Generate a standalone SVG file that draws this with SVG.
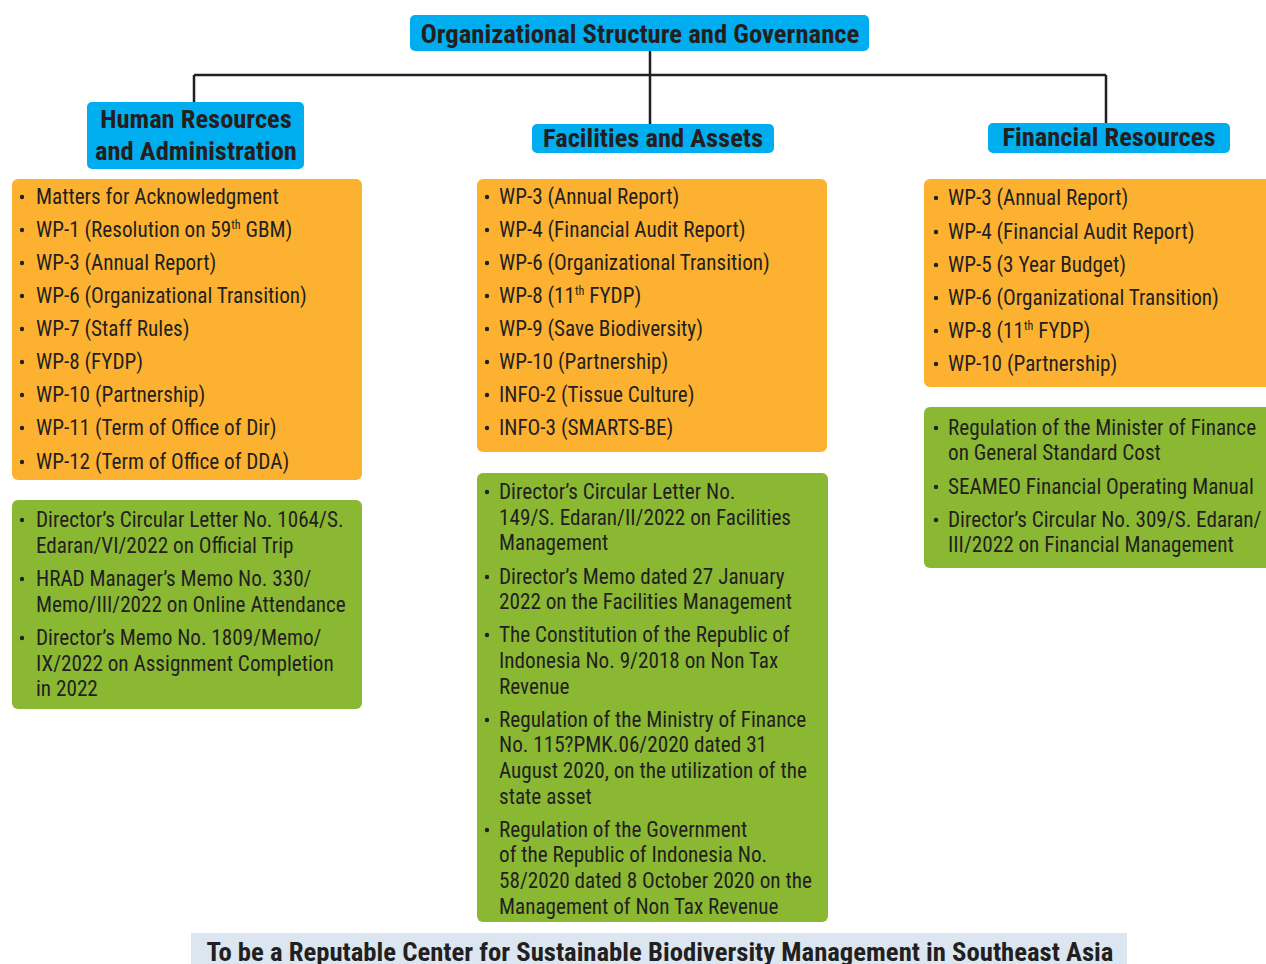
<svg xmlns="http://www.w3.org/2000/svg" width="1266" height="964" viewBox="0 0 1266 964">
<style>
.hdr{fill:#00AEEF}
.org{fill:#FDB131}
.grn{fill:#8AB833}
.t{font-family:Roboto,"Liberation Sans",sans-serif;font-size:21.2px;fill:#231F20;font-stretch:condensed}
.h{font-family:Roboto,"Liberation Sans",sans-serif;font-weight:bold;fill:#231F20;text-anchor:middle;font-stretch:condensed}
.b{fill:#231F20}
.c{stroke:#231F20;stroke-width:2.5;fill:none}
</style>
<rect width="1266" height="964" fill="#ffffff"/>
<g id="connectors">
<path class="c" d="M650 51V124M194 75H1106M194 75V102M1106 75V124"/>
</g>
<g id="title">
<rect class="hdr" x="410" y="15" width="459" height="36" rx="5"/>
<text class="h" x="640" y="43" font-size="26.7">Organizational Structure and Governance</text>
</g>
<g id="hr-header">
<rect class="hdr" x="87" y="102" width="217" height="67" rx="5"/>
<text class="h" x="196" y="128" font-size="26.5">Human Resources</text>
<text class="h" x="196" y="160" font-size="26.5">and Administration</text>
</g>
<g id="fac-header">
<rect class="hdr" x="532" y="124" width="242" height="29" rx="5"/>
<text class="h" x="653" y="147" font-size="26.5">Facilities and Assets</text>
</g>
<g id="fin-header">
<rect class="hdr" x="988" y="123" width="242" height="30" rx="5"/>
<text class="h" x="1109" y="146" font-size="26.5">Financial Resources</text>
</g>
<g id="hr-wp">
<rect class="org" x="12" y="179" width="350" height="301" rx="6"/>
<g class="b"><circle cx="22" cy="197" r="2.2"/><circle cx="22" cy="230" r="2.2"/><circle cx="22" cy="263" r="2.2"/><circle cx="22" cy="296" r="2.2"/><circle cx="22" cy="329" r="2.2"/><circle cx="22" cy="362" r="2.2"/><circle cx="22" cy="395" r="2.2"/><circle cx="22" cy="428" r="2.2"/><circle cx="22" cy="462" r="2.2"/></g>
<text class="t" x="36" y="204">Matters for Acknowledgment</text>
<text class="t" x="36" y="237">WP-1 (Resolution on 59<tspan font-size="12" dy="-8">th</tspan><tspan dy="8"> GBM)</tspan></text>
<text class="t" x="36" y="270">WP-3 (Annual Report)</text>
<text class="t" x="36" y="303">WP-6 (Organizational Transition)</text>
<text class="t" x="36" y="336">WP-7 (Staff Rules)</text>
<text class="t" x="36" y="369">WP-8 (FYDP)</text>
<text class="t" x="36" y="402">WP-10 (Partnership)</text>
<text class="t" x="36" y="435">WP-11 (Term of Office of Dir)</text>
<text class="t" x="36" y="469">WP-12 (Term of Office of DDA)</text>
</g>
<g id="hr-reg">
<rect class="grn" x="12" y="500" width="350" height="209" rx="6"/>
<g class="b"><circle cx="22" cy="520" r="2.2"/><circle cx="22" cy="579" r="2.2"/><circle cx="22" cy="638" r="2.2"/></g>
<text class="t" x="36" y="527">Director’s Circular Letter No. 1064/S.</text>
<text class="t" x="36" y="553">Edaran/VI/2022 on Official Trip</text>
<text class="t" x="36" y="586">HRAD Manager’s Memo No. 330/</text>
<text class="t" x="36" y="612">Memo/III/2022 on Online Attendance</text>
<text class="t" x="36" y="645">Director’s Memo No. 1809/Memo/</text>
<text class="t" x="36" y="671">IX/2022 on Assignment Completion</text>
<text class="t" x="36" y="696">in 2022</text>
</g>
<g id="fac-wp">
<rect class="org" x="477" y="179" width="350" height="273" rx="6"/>
<g class="b"><circle cx="487" cy="197" r="2.2"/><circle cx="487" cy="230" r="2.2"/><circle cx="487" cy="263" r="2.2"/><circle cx="487" cy="296" r="2.2"/><circle cx="487" cy="329" r="2.2"/><circle cx="487" cy="362" r="2.2"/><circle cx="487" cy="395" r="2.2"/><circle cx="487" cy="428" r="2.2"/></g>
<text class="t" x="499" y="204">WP-3 (Annual Report)</text>
<text class="t" x="499" y="237">WP-4 (Financial Audit Report)</text>
<text class="t" x="499" y="270">WP-6 (Organizational Transition)</text>
<text class="t" x="499" y="303">WP-8 (11<tspan font-size="12" dy="-8">th</tspan><tspan dy="8"> FYDP)</tspan></text>
<text class="t" x="499" y="336">WP-9 (Save Biodiversity)</text>
<text class="t" x="499" y="369">WP-10 (Partnership)</text>
<text class="t" x="499" y="402">INFO-2 (Tissue Culture)</text>
<text class="t" x="499" y="435">INFO-3 (SMARTS-BE)</text>
</g>
<g id="fac-reg">
<rect class="grn" x="477" y="473" width="351" height="449" rx="6"/>
<g class="b"><circle cx="487" cy="492" r="2.2"/><circle cx="487" cy="577" r="2.2"/><circle cx="487" cy="635" r="2.2"/><circle cx="487" cy="720" r="2.2"/><circle cx="487" cy="830" r="2.2"/></g>
<text class="t" x="499" y="499">Director’s Circular Letter No.</text>
<text class="t" x="499" y="525">149/S. Edaran/II/2022 on Facilities</text>
<text class="t" x="499" y="550">Management</text>
<text class="t" x="499" y="584">Director’s Memo dated 27 January</text>
<text class="t" x="499" y="609">2022 on the Facilities Management</text>
<text class="t" x="499" y="642">The Constitution of the Republic of</text>
<text class="t" x="499" y="668">Indonesia No. 9/2018 on Non Tax</text>
<text class="t" x="499" y="694">Revenue</text>
<text class="t" x="499" y="727">Regulation of the Ministry of Finance</text>
<text class="t" x="499" y="752">No. 115?PMK.06/2020 dated 31</text>
<text class="t" x="499" y="778">August 2020, on the utilization of the</text>
<text class="t" x="499" y="804">state asset</text>
<text class="t" x="499" y="837">Regulation of the Government</text>
<text class="t" x="499" y="862">of the Republic of Indonesia No.</text>
<text class="t" x="499" y="888">58/2020 dated 8 October 2020 on the</text>
<text class="t" x="499" y="914">Management of Non Tax Revenue</text>
</g>
<g id="fin-wp">
<rect class="org" x="924" y="179" width="350" height="208" rx="6"/>
<g class="b"><circle cx="936" cy="198" r="2.2"/><circle cx="936" cy="232" r="2.2"/><circle cx="936" cy="265" r="2.2"/><circle cx="936" cy="298" r="2.2"/><circle cx="936" cy="331" r="2.2"/><circle cx="936" cy="364" r="2.2"/></g>
<text class="t" x="948" y="205">WP-3 (Annual Report)</text>
<text class="t" x="948" y="239">WP-4 (Financial Audit Report)</text>
<text class="t" x="948" y="272">WP-5 (3 Year Budget)</text>
<text class="t" x="948" y="305">WP-6 (Organizational Transition)</text>
<text class="t" x="948" y="338">WP-8 (11<tspan font-size="12" dy="-8">th</tspan><tspan dy="8"> FYDP)</tspan></text>
<text class="t" x="948" y="371">WP-10 (Partnership)</text>
</g>
<g id="fin-reg">
<rect class="grn" x="924" y="407" width="350" height="161" rx="6"/>
<g class="b"><circle cx="936" cy="428" r="2.2"/><circle cx="936" cy="487" r="2.2"/><circle cx="936" cy="520" r="2.2"/></g>
<text class="t" x="948" y="435">Regulation of the Minister of Finance</text>
<text class="t" x="948" y="460">on General Standard Cost</text>
<text class="t" x="948" y="494">SEAMEO Financial Operating Manual</text>
<text class="t" x="948" y="527">Director’s Circular No. 309/S. Edaran/</text>
<text class="t" x="948" y="552">III/2022 on Financial Management</text>
</g>
<g id="banner">
<rect x="191" y="933" width="936" height="40" fill="#DCE6F0"/>
<text class="h" x="660" y="961" font-size="26.7">To be a Reputable Center for Sustainable Biodiversity Management in Southeast Asia</text>
</g>
</svg>
